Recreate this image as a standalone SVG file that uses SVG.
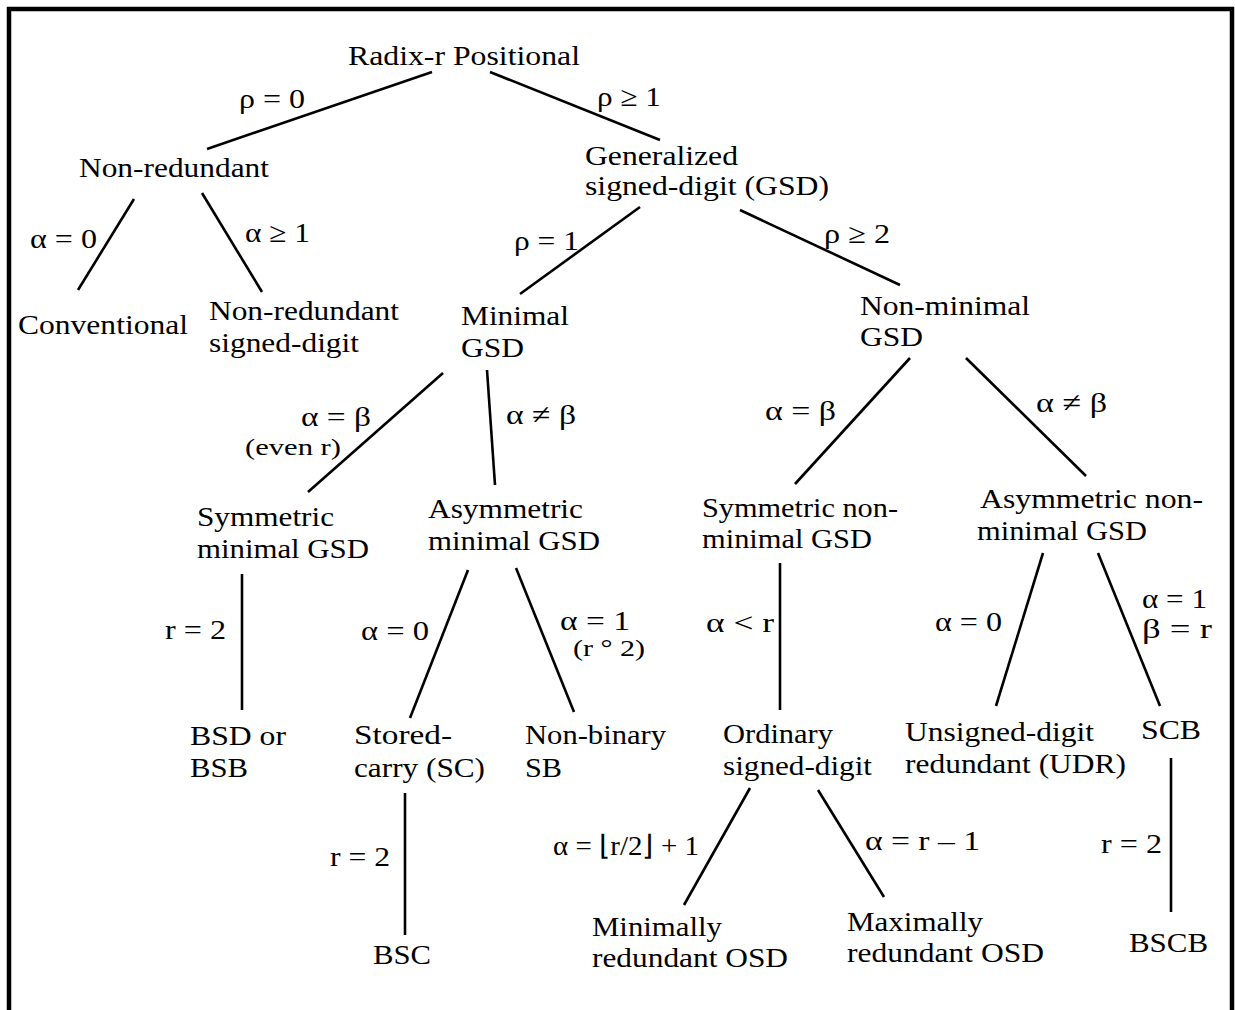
<svg xmlns="http://www.w3.org/2000/svg" width="1235" height="1010" viewBox="0 0 1235 1010">
<style>
text{font-family:"Liberation Serif","Times New Roman",serif;font-size:28px;fill:#000}
.s{font-size:23px}
.c line{stroke:#000;stroke-width:2.6;stroke-linecap:butt}
.f{stroke:#000;stroke-width:4.5;fill:none}
</style>
<rect width="1235" height="1010" fill="#fff"/>
<path class="f" d="M9,1010 V9 H1232 V1010"/>
<g class="c" id="connectors">
<line x1="432" y1="72" x2="207" y2="149"/>
<line x1="490" y1="72" x2="660" y2="140"/>
<line x1="134" y1="199" x2="78" y2="290"/>
<line x1="202" y1="193" x2="262" y2="292"/>
<line x1="640" y1="207" x2="520" y2="294"/>
<line x1="740" y1="210" x2="900" y2="285"/>
<line x1="443" y1="373" x2="308" y2="492"/>
<line x1="487" y1="370" x2="495" y2="485"/>
<line x1="910" y1="358" x2="795" y2="484"/>
<line x1="966" y1="358" x2="1086" y2="476"/>
<line x1="242" y1="574" x2="242" y2="710"/>
<line x1="468" y1="570" x2="410" y2="718"/>
<line x1="516" y1="568" x2="574" y2="712"/>
<line x1="780" y1="563" x2="780" y2="710"/>
<line x1="1043" y1="553" x2="996" y2="706"/>
<line x1="1098" y1="553" x2="1160" y2="706"/>
<line x1="405" y1="793" x2="405" y2="935"/>
<line x1="750" y1="788" x2="684" y2="905"/>
<line x1="818" y1="790" x2="884" y2="897"/>
<line x1="1171" y1="758" x2="1171" y2="912"/>
</g>
<g id="labels" lengthAdjust="spacingAndGlyphs">
<text x="239" y="108" textLength="66" lengthAdjust="spacingAndGlyphs">ρ = 0</text>
<text x="597" y="106" textLength="64" lengthAdjust="spacingAndGlyphs">ρ ≥ 1</text>
<text x="30" y="248" textLength="67" lengthAdjust="spacingAndGlyphs">α = 0</text>
<text x="245" y="242" textLength="65" lengthAdjust="spacingAndGlyphs">α ≥ 1</text>
<text x="514" y="250" textLength="65" lengthAdjust="spacingAndGlyphs">ρ = 1</text>
<text x="824" y="243" textLength="66" lengthAdjust="spacingAndGlyphs">ρ ≥ 2</text>
<text x="301" y="426" textLength="70" lengthAdjust="spacingAndGlyphs">α = β</text>
<text class="s" x="245" y="455" textLength="96" lengthAdjust="spacingAndGlyphs">(even r)</text>
<text x="506" y="424" textLength="70" lengthAdjust="spacingAndGlyphs">α ≠ β</text>
<text x="765" y="420" textLength="71" lengthAdjust="spacingAndGlyphs">α = β</text>
<text x="1036" y="412" textLength="71" lengthAdjust="spacingAndGlyphs">α ≠ β</text>
<text x="165" y="639" textLength="61" lengthAdjust="spacingAndGlyphs">r = 2</text>
<text x="361" y="640" textLength="68" lengthAdjust="spacingAndGlyphs">α = 0</text>
<text x="560" y="630" textLength="70" lengthAdjust="spacingAndGlyphs">α = 1</text>
<text class="s" x="573" y="656" textLength="72" lengthAdjust="spacingAndGlyphs">(r ° 2)</text>
<text x="706" y="632" textLength="68" lengthAdjust="spacingAndGlyphs">α &lt;  r</text>
<text x="935" y="631" textLength="67" lengthAdjust="spacingAndGlyphs">α = 0</text>
<text x="1142" y="608" textLength="65" lengthAdjust="spacingAndGlyphs">α = 1</text>
<text x="1142" y="638" textLength="70" lengthAdjust="spacingAndGlyphs">β =  r</text>
<text x="330" y="866" textLength="60" lengthAdjust="spacingAndGlyphs">r = 2</text>
<text x="553" y="855" textLength="146" lengthAdjust="spacingAndGlyphs">α = ⌊r/2⌋ + 1</text>
<text x="865" y="850" textLength="115" lengthAdjust="spacingAndGlyphs">α =  r – 1</text>
<text x="1101" y="853" textLength="61" lengthAdjust="spacingAndGlyphs">r = 2</text>
</g>
<g id="n-radix"><text x="348" y="65" textLength="232" lengthAdjust="spacingAndGlyphs">Radix-r Positional</text></g>
<g id="n-nonredundant"><text x="79" y="177" textLength="190" lengthAdjust="spacingAndGlyphs">Non-redundant</text></g>
<g id="n-gsd"><text x="585" y="165" textLength="153" lengthAdjust="spacingAndGlyphs">Generalized</text><text x="585" y="195" textLength="244" lengthAdjust="spacingAndGlyphs">signed-digit (GSD)</text></g>
<g id="n-conventional"><text x="18" y="334" textLength="170" lengthAdjust="spacingAndGlyphs">Conventional</text></g>
<g id="n-nrsd"><text x="209" y="320" textLength="190" lengthAdjust="spacingAndGlyphs">Non-redundant</text><text x="209" y="352" textLength="150" lengthAdjust="spacingAndGlyphs">signed-digit</text></g>
<g id="n-minimal"><text x="461" y="325" textLength="108" lengthAdjust="spacingAndGlyphs">Minimal</text><text x="461" y="357" textLength="63" lengthAdjust="spacingAndGlyphs">GSD</text></g>
<g id="n-nonminimal"><text x="860" y="315" textLength="170" lengthAdjust="spacingAndGlyphs">Non-minimal</text><text x="860" y="346" textLength="63" lengthAdjust="spacingAndGlyphs">GSD</text></g>
<g id="n-symmin"><text x="197" y="526" textLength="137" lengthAdjust="spacingAndGlyphs">Symmetric</text><text x="197" y="558" textLength="172" lengthAdjust="spacingAndGlyphs">minimal GSD</text></g>
<g id="n-asymmin"><text x="428" y="518" textLength="155" lengthAdjust="spacingAndGlyphs">Asymmetric</text><text x="428" y="550" textLength="172" lengthAdjust="spacingAndGlyphs">minimal GSD</text></g>
<g id="n-symnonmin"><text x="702" y="517" textLength="196" lengthAdjust="spacingAndGlyphs">Symmetric non-</text><text x="702" y="548" textLength="170" lengthAdjust="spacingAndGlyphs">minimal GSD</text></g>
<g id="n-asymnonmin"><text x="980" y="508" textLength="223" lengthAdjust="spacingAndGlyphs">Asymmetric non-</text><text x="977" y="540" textLength="170" lengthAdjust="spacingAndGlyphs">minimal GSD</text></g>
<g id="n-bsd"><text x="190" y="745" textLength="96" lengthAdjust="spacingAndGlyphs">BSD or</text><text x="190" y="777" textLength="58" lengthAdjust="spacingAndGlyphs">BSB</text></g>
<g id="n-sc"><text x="354" y="744" textLength="98" lengthAdjust="spacingAndGlyphs">Stored-</text><text x="354" y="777" textLength="131" lengthAdjust="spacingAndGlyphs">carry (SC)</text></g>
<g id="n-nbsb"><text x="525" y="744" textLength="141" lengthAdjust="spacingAndGlyphs">Non-binary</text><text x="525" y="777" textLength="37" lengthAdjust="spacingAndGlyphs">SB</text></g>
<g id="n-osd"><text x="723" y="743" textLength="110" lengthAdjust="spacingAndGlyphs">Ordinary</text><text x="723" y="775" textLength="149" lengthAdjust="spacingAndGlyphs">signed-digit</text></g>
<g id="n-udr"><text x="905" y="741" textLength="189" lengthAdjust="spacingAndGlyphs">Unsigned-digit</text><text x="905" y="773" textLength="221" lengthAdjust="spacingAndGlyphs">redundant (UDR)</text></g>
<g id="n-scb"><text x="1141" y="739" textLength="60" lengthAdjust="spacingAndGlyphs">SCB</text></g>
<g id="n-bsc"><text x="373" y="964" textLength="58" lengthAdjust="spacingAndGlyphs">BSC</text></g>
<g id="n-minosd"><text x="592" y="936" textLength="130" lengthAdjust="spacingAndGlyphs">Minimally</text><text x="592" y="967" textLength="196" lengthAdjust="spacingAndGlyphs">redundant OSD</text></g>
<g id="n-maxosd"><text x="847" y="931" textLength="136" lengthAdjust="spacingAndGlyphs">Maximally</text><text x="847" y="962" textLength="197" lengthAdjust="spacingAndGlyphs">redundant OSD</text></g>
<g id="n-bscb"><text x="1129" y="952" textLength="79" lengthAdjust="spacingAndGlyphs">BSCB</text></g>
</svg>
